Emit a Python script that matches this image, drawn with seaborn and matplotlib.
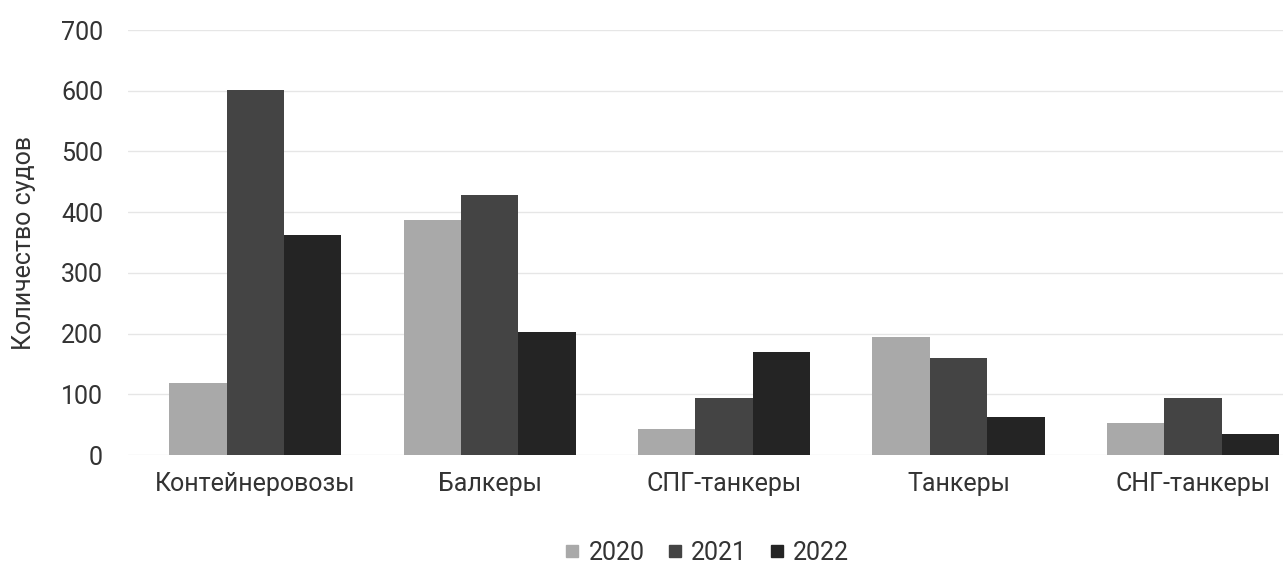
import pandas as pd
import matplotlib.pyplot as plt
import seaborn as sns
from matplotlib.lines import Line2D

# --- DATA ---
categories = ["Контейнеровозы", "Балкеры", "СПГ-танкеры", "Танкеры", "СНГ-танкеры"]
years = ["2020", "2021", "2022"]
values_2020 = [118, 387, 43, 194, 53]
values_2021 = [602, 428, 94, 160, 94]
values_2022 = [362, 203, 170, 63, 35]
colors = ["#a9a9a9", "#444444", "#242424"]

rows = []
for year, vals in zip(years, [values_2020, values_2021, values_2022]):
    for cat, v in zip(categories, vals):
        rows.append({"category": cat, "year": year, "value": v})
df = pd.DataFrame(rows)

sns.set_theme(style="white")
plt.rcParams['font.family'] = ['Roboto', 'DejaVu Sans']

fig = plt.figure(figsize=(12.83, 5.63), dpi=100)
ax = fig.add_axes([0.0998, 0.1918, 0.9002, 0.7549])

sns.barplot(data=df, x="category", y="value", hue="year", palette=colors,
            width=0.735, saturation=1, linewidth=0, ax=ax, legend=False)

ax.set_ylim(0, 700)
ax.set_xlim(-0.543, 4.384)
ax.set_yticks(range(0, 701, 100))
ax.grid(axis="y", color="#e6e6e6", linewidth=1)
ax.set_axisbelow(True)
for s in ax.spines.values():
    s.set_visible(False)
ax.tick_params(axis="y", labelsize=18, labelcolor="#333333", pad=18, length=0)
ax.tick_params(axis="x", labelsize=18, labelcolor="#333333", pad=12, length=0)
ax.set_xlabel("")
ax.set_ylabel("Количество судов", fontsize=18, color="#333333", labelpad=18)

handles = [Line2D([0], [0], marker="s", linestyle="", markersize=8,
                  markerfacecolor=c, markeredgecolor=c) for c in colors]
fig.legend(handles, years, loc="center", bbox_to_anchor=(0.551, 0.018), ncol=3,
           frameon=False, fontsize=18, handlelength=0.6, handletextpad=0.35,
           columnspacing=0.9, labelcolor="#333333")

fig.savefig("out.png", dpi=100)
